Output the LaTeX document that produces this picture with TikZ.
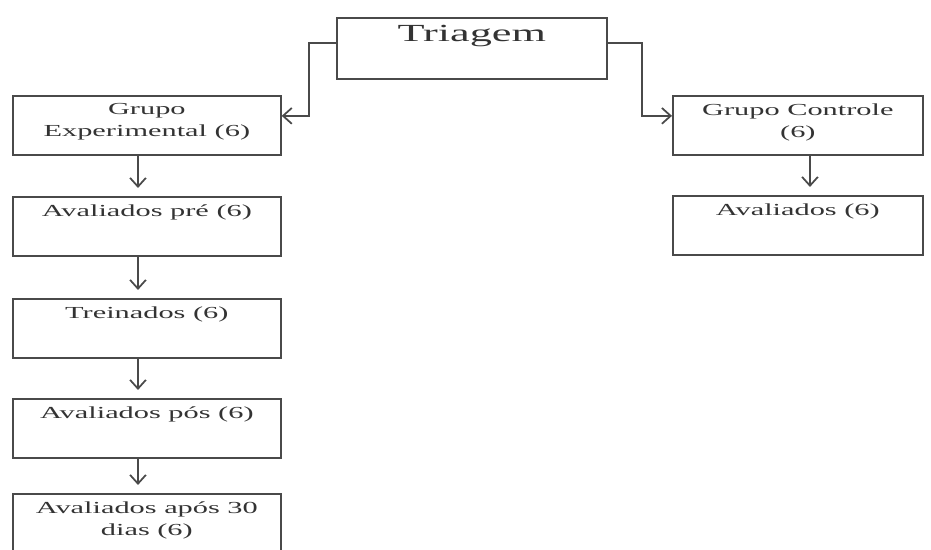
\documentclass[tikz,border=0pt]{standalone}
\usepackage{fontspec}
\setmainfont{Liberation Serif}[FakeStretch=1.8]
\usetikzlibrary{arrows.meta}
\definecolor{linegray}{HTML}{4A4A4A}
\definecolor{textgray}{HTML}{333333}

\begin{document}
\begin{tikzpicture}[x=0.02cm, y=-0.02cm,
  box/.style={draw=linegray, line width=1pt, anchor=north west, inner sep=0pt, minimum height=1.18cm, minimum width=5.36cm},
  txt/.style={anchor=north, yshift=-0.16cm, inner sep=0pt, align=center, text=textgray, font=\fontsize{9.6}{12.5}\selectfont},
  arr/.style={draw=linegray, line width=1pt, -{Straight Barb[length=5pt,width=9pt]}}]
\useasboundingbox (0,0) rectangle (931,550);
\node[box, minimum width=5.4cm, minimum height=1.22cm, label={[txt, font=\fontsize{14}{16}\selectfont]north:Triagem}] (tri) at (336,17) {};
\node[box, label={[txt]north:Grupo\\Experimental (6)}] (ge) at (12,95) {};
\node[box, label={[txt]north:Avaliados pré (6)}] (pre) at (12,196) {};
\node[box, label={[txt]north:Treinados (6)}] (tre) at (12,298) {};
\node[box, label={[txt]north:Avaliados pós (6)}] (pos) at (12,398) {};
\node[box, label={[txt]north:Avaliados após 30\\dias (6)}] (apo) at (12,493) {};
\node[box, minimum width=5cm, label={[txt]north:Grupo Controle\\(6)}] (gc) at (672,95) {};
\node[box, minimum width=5cm, label={[txt]north:Avaliados (6)}] (av) at (672,195) {};

\draw[arr] ([yshift=0.11cm]tri.west) -- ++(-27,0) |- ([yshift=0.19cm]ge.east);
\draw[arr] ([yshift=0.11cm]tri.east) -- ++(34,0) |- ([yshift=0.19cm]gc.west);
\foreach \a/\b in {ge/pre,pre/tre,tre/pos,pos/apo}
  \draw[arr, shorten >=0.16cm] ([xshift=2.52cm]\a.south west) -- ([xshift=2.52cm]\b.north west);
\draw[arr, shorten >=0.16cm] ([xshift=2.76cm]gc.south west) -- ([xshift=2.76cm]av.north west);
\end{tikzpicture}
\end{document}
